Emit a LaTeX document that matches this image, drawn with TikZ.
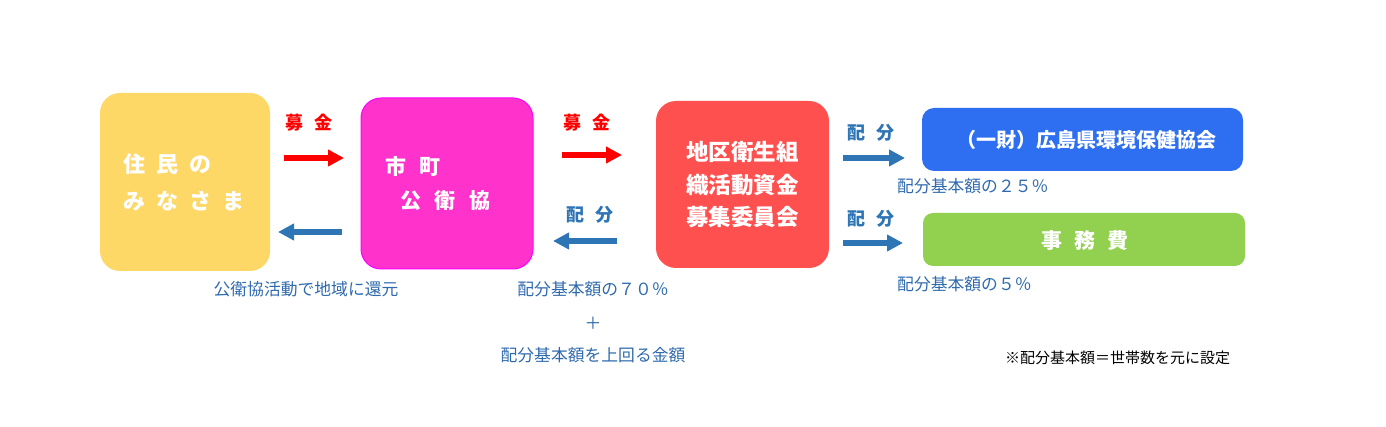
\documentclass[tikz,border=0pt]{standalone}
\usepackage{fontspec}
\setmainfont{Noto Sans CJK JP}
\usetikzlibrary{arrows.meta, positioning}
\definecolor{juminfill}{HTML}{FDD866}
\definecolor{shichofill}{HTML}{FF33CC}
\definecolor{shichoedge}{HTML}{FF00FF}
\definecolor{iinkaifill}{HTML}{FF5050}
\definecolor{kyokaifill}{HTML}{2D6FF0}
\definecolor{jimufill}{HTML}{92D050}
\definecolor{flowblue}{HTML}{2E75B6}
\definecolor{notecolor}{HTML}{2F6AAE}
\newcommand{\jgap}{\hspace{11pt}}

\begin{document}
\begin{tikzpicture}[x=1pt, y=-1pt]
  \tikzset{
    box/.style={
      rounded corners=20pt,
      draw=none,
      anchor=center
    },
    boxtext/.style={
      text=white,
      font=\bfseries\fontsize{20pt}{34pt}\selectfont,
      align=left
    },
    redflow/.style={
      draw=red,
      line width=6pt,
      -{Triangle[length=16pt, width=16pt]}
    },
    blueflow/.style={
      draw=flowblue,
      line width=6pt,
      -{Triangle[length=16pt, width=16pt]}
    },
    boshu/.style={
      text=red,
      font=\bfseries\fontsize{18pt}{20pt}\selectfont
    },
    haibun/.style={
      text=flowblue,
      font=\bfseries\fontsize{18pt}{20pt}\selectfont
    },
    note/.style={
      text=notecolor,
      font=\fontsize{16.8pt}{18pt}\selectfont
    }
  }
  \useasboundingbox (0,0) rectangle (1386,427);

  % boxes
  \node[box, fill=juminfill, minimum width=170pt, minimum height=178pt] (jumin) at (185,182) {};
  \node[box, fill=shichofill, draw=shichoedge, line width=1pt, minimum width=172pt, minimum height=171pt] (shicho) at (447,183.5) {};
  \node[box, fill=iinkaifill, minimum width=173pt, minimum height=167pt] (iinkai) at (742.5,184.5) {};
  \node[box, fill=kyokaifill, rounded corners=12pt, minimum width=321pt, minimum height=63pt] (kyokai) at (1082.5,139.5) {};
  \node[box, fill=jimufill, rounded corners=10pt, minimum width=322pt, minimum height=53pt] (jimu) at (1084,239.5) {};

  % box texts
  \node[boxtext, font=\bfseries\fontsize{22pt}{37pt}\selectfont] (jumintext) at ([xshift=-1pt]jumin.center) {住\jgap 民\jgap の\\み\jgap な\jgap さ\jgap ま};
  \node[boxtext, font=\bfseries\fontsize{21pt}{34pt}\selectfont] (shichotext) at ([xshift=-9pt]shicho.center) {市\hspace{14pt}町\\\hspace{15pt}公\hspace{14pt}衛\hspace{14pt}協};
  \node[boxtext, align=center, font=\bfseries\fontsize{22.5pt}{32.5pt}\selectfont] (iinkaitext) at (iinkai.center) {地区衛生組\\織活動資金\\募集委員会};
  \node[boxtext, font=\bfseries\fontsize{20pt}{22pt}\selectfont] (kyokaitext) at (1086,140) {（一財）広島県環境保健協会};
  \node[boxtext, font=\bfseries\fontsize{21pt}{22pt}\selectfont] (jimutext) at (1085,241) {事\hspace{12pt}務\hspace{12pt}費};

  % arrow ends
  \coordinate (a1s) at (284,158);
  \coordinate (a1e) at (344,158);
  \coordinate (a2s) at (342,232);
  \coordinate (a2e) at (278,232);
  \coordinate (a3s) at (562,155);
  \coordinate (a3e) at (622,155);
  \coordinate (a4s) at (617,241);
  \coordinate (a4e) at (553,241);
  \coordinate (a5s) at (843,158);
  \coordinate (a5e) at (905,158);
  \coordinate (a6s) at (843,243);
  \coordinate (a6e) at (903,243);

  \draw[redflow] (a1s) -- (a1e);
  \draw[blueflow] (a2s) -- (a2e);
  \draw[redflow] (a3s) -- (a3e);
  \draw[blueflow] (a4s) -- (a4e);
  \draw[blueflow] (a5s) -- (a5e);
  \draw[blueflow] (a6s) -- (a6e);

  % arrow labels
  \node[boshu] (boshu1) at (309,123) {募\hspace{12pt}金};
  \node[boshu] (boshu2) at (587,123) {募\hspace{12pt}金};
  \node[haibun] (haibun1) at (590,215) {配\hspace{12pt}分};
  \node[haibun] (haibun2) at (871,133) {配\hspace{12pt}分};
  \node[haibun] (haibun3) at (871,219) {配\hspace{12pt}分};

  % notes
  \node[note] (kangen) at (306,289) {公衛協活動で地域に還元};
  \node[note] (rate70) at (593,289) {配分基本額の７０％};
  \node[note] (plus) at (593,323) {＋};
  \node[note] (uwamawaru) at (593,355) {配分基本額を上回る金額};
  \node[note, anchor=west, inner sep=0pt] (rate25) at (897,186) {配分基本額の２５％};
  \node[note, anchor=west, inner sep=0pt] (rate5) at (897,284) {配分基本額の５％};
  \node[font=\fontsize{15pt}{16pt}\selectfont, anchor=west, inner sep=0pt] (setei) at (1005,358) {※配分基本額＝世帯数を元に設定};
\end{tikzpicture}
\end{document}
